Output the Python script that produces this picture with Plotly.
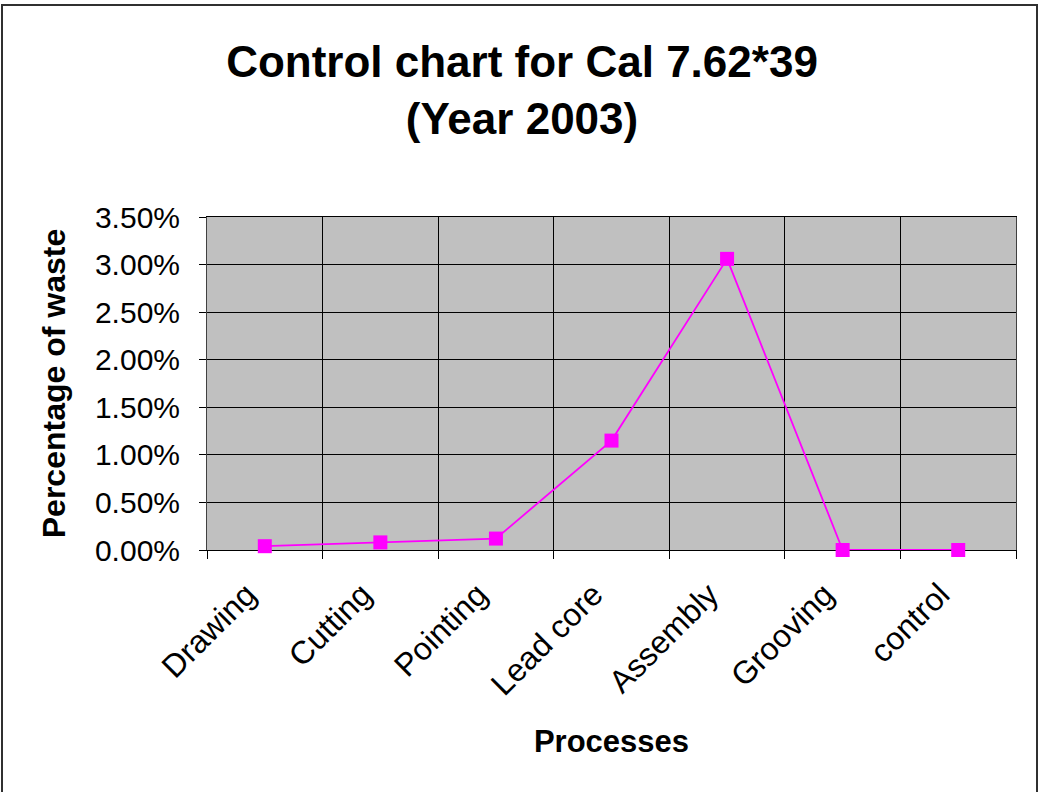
import plotly.graph_objects as go

categories = ["Drawing", "Cutting", "Pointing", "Lead core", "Assembly", "Grooving", "control"]
waste = [0.0004, 0.0008, 0.0012, 0.0115, 0.0306, 0.0, 0.0]
y_ticks = [0, 0.005, 0.01, 0.015, 0.02, 0.025, 0.03, 0.035]

W, H = 1038, 792
L, R, T, B = 207, 22, 217, 242
pw, ph = W - L - R, H - T - B

fig = go.Figure()
fig.add_trace(go.Scatter(
    x=categories, y=waste, mode="lines+markers",
    line=dict(color="#FF00FF", width=1.8),
    marker=dict(symbol="square", size=14, color="#FF00FF"),
    cliponaxis=False,
    showlegend=False,
))

font = "Liberation Sans, Arial, sans-serif"
fig.update_layout(
    width=W, height=H,
    margin=dict(l=L, r=R, t=T, b=B, autoexpand=False),
    paper_bgcolor="white", plot_bgcolor="#C0C0C0",
    font=dict(family=font, color="black"),
    title=dict(
        text="<b>Control chart for Cal 7.62*39<br>(Year 2003)</b>",
        x=522 / W, xanchor="center", y=1 - 77 / H, yanchor="middle",
        yref="container", xref="container",
        font=dict(size=44, family=font, color="black"),
    ),
    xaxis=dict(
        type="category", range=[-0.5, 6.5], tickson="boundaries",
        ticks="outside", ticklen=8, tickcolor="black", tickwidth=1,
        showgrid=True, gridcolor="black", gridwidth=1,
        showline=True, linecolor="black", linewidth=1, mirror=True,
        layer="below traces",
        tickangle=-45, tickfont=dict(size=32, family=font),
        ticklabelstandoff=12, ticklabelshift=-18,
        title=dict(text="<b>Processes</b>", font=dict(size=31, family=font), standoff=28),
        automargin=False,
    ),
    yaxis=dict(
        range=[0, 0.035], tickvals=y_ticks, tickformat=".2%",
        ticks="outside", ticklen=7, tickcolor="black", tickwidth=1,
        showgrid=True, gridcolor="black", gridwidth=1,
        showline=True, linecolor="#404040", linewidth=1, mirror=True,
        layer="below traces",
        tickfont=dict(size=30, family=font), ticklabelstandoff=13,
        zeroline=False,
        title=dict(text="<b>Percentage of waste</b>", font=dict(size=32, family=font), standoff=19),
        automargin=False,
    ),
)

fig.add_shape(
    type="rect", xref="paper", yref="paper",
    x0=(2 - L) / pw, x1=(1037 - L) / pw,
    y0=-(H + 5 - (H - B)) / ph, y1=(H - B - 5) / ph,
    line=dict(color="#303030", width=2), fillcolor="rgba(0,0,0,0)", layer="below",
)

fig.write_html(
    "out.html",
    config={"displayModeBar": False},
    post_script="document.body.style.margin='0';document.body.style.overflow='hidden';",
)
